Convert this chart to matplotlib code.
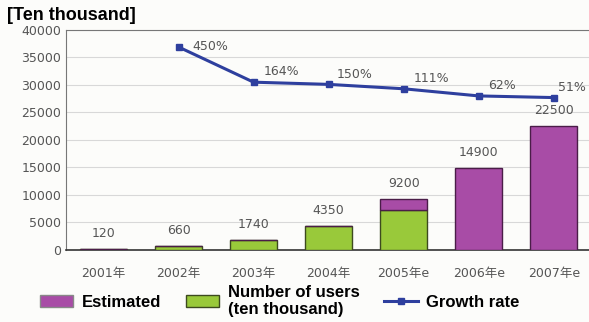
import numpy as np
import matplotlib.pyplot as plt
from matplotlib.patches import Patch
from matplotlib.lines import Line2D

plt.rcParams['font.family'] = ['DejaVu Sans', 'Noto Sans CJK SC']

years = ["2001年", "2002年", "2003年", "2004年", "2005年e", "2006年e", "2007年e"]
users = [120, 660, 1740, 4350, 7300, 0, 0]
estimated = [0, 0, 0, 0, 1900, 14900, 22500]
totals = [120, 660, 1740, 4350, 9200, 14900, 22500]
growth_labels = ["450%", "164%", "150%", "111%", "62%", "51%"]
# vertical level of the growth line as drawn on the chart (in axis units)
growth_level = [36900, 30500, 30100, 29300, 28000, 27700]

purple = "#a84ca6"
green = "#99c93a"
blue = "#2e3f9e"
gray = "#555555"

fig = plt.figure(figsize=(5.89, 3.22), dpi=100)
fig.patch.set_facecolor("#fcfcfa")
ax = fig.add_axes([0.112, 0.224, 0.888, 0.683])
ax.set_facecolor("#fcfcfa")

x = np.arange(len(years))
ax.bar(x, users, width=0.63, color=green, edgecolor="#3d4a1f", linewidth=1.0, zorder=3)
ax.bar(x, estimated, width=0.63, bottom=users, color=purple, edgecolor="#4a1d48", linewidth=1.0, zorder=3)

for i, t in enumerate(totals):
    ax.text(x[i], t + 1700, str(t), ha="center", va="bottom", fontsize=9, color=gray)

gx = x[1:]
ax.plot(gx, growth_level, color=blue, linewidth=2.2, marker="s", markersize=5, zorder=4)
offsets = [0.18, 0.13, 0.11, 0.13, 0.12, 0.06]
for i, lab in enumerate(growth_labels):
    if i == 0:
        ax.text(gx[i] + offsets[i], growth_level[i], lab, ha="left", va="center",
                fontsize=9, color=gray)
    else:
        ax.text(gx[i] + offsets[i], growth_level[i] + 700, lab, ha="left", va="bottom",
                fontsize=9, color=gray)

ax.set_xlim(-0.5, 6.47)
ax.set_ylim(0, 40000)
ax.set_yticks(np.arange(0, 40001, 5000))
ax.set_xticks(x)
ax.set_xticklabels(years)
ax.tick_params(axis="both", length=0, labelsize=9, colors=gray)
ax.tick_params(axis="x", pad=12)
ax.grid(axis="y", color="#d8d8d8", linewidth=0.8, zorder=0)
ax.spines["right"].set_visible(False)
ax.spines["top"].set_color("#777777")
ax.spines["left"].set_color("#777777")
ax.spines["bottom"].set_color("#333333")
ax.spines["bottom"].set_linewidth(1.2)

fig.text(0.012, 0.952, "[Ten thousand]", fontsize=13, fontweight="bold", ha="left", va="center",
         family="Liberation Sans")

handles = [
    Patch(facecolor=purple, edgecolor="#888888"),
    Patch(facecolor=green, edgecolor="#3d4a1f"),
    Line2D([0], [0], color=blue, linewidth=2.2, marker="s", markersize=4),
]
labels = ["Estimated", "Number of users\n(ten thousand)", "Growth rate"]
fig.legend(handles, labels, loc="center", bbox_to_anchor=(0.475, 0.065), ncol=3, frameon=False,
           prop={"weight": "bold", "size": 12, "family": "Liberation Sans"}, handlelength=2.0,
           columnspacing=1.5, handletextpad=0.5, borderaxespad=0)

fig.savefig("out.png", dpi=100, facecolor=fig.get_facecolor())
